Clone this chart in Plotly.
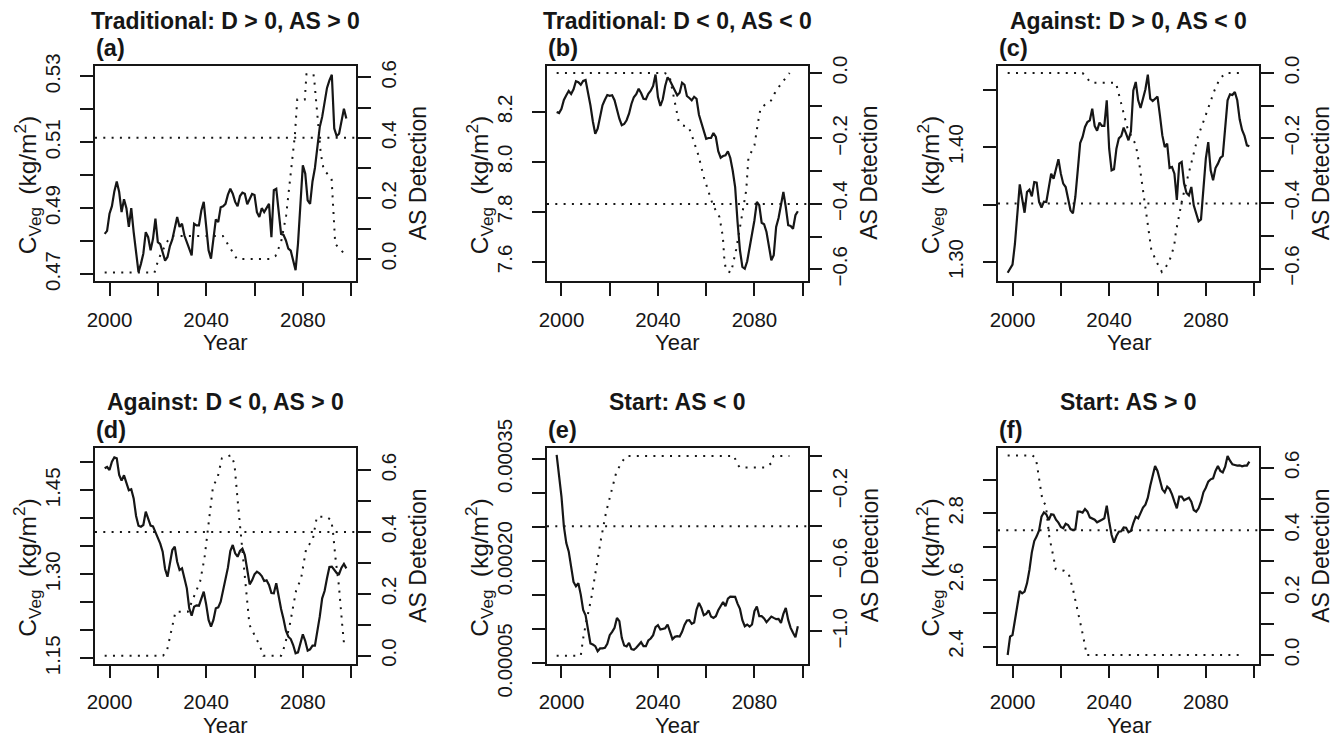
import plotly.graph_objects as go

W, H = 1344, 738

# ---------------- data ----------------
YEARS = list(range(1998, 2099))

titles = ["Traditional: D &gt; 0, AS &gt; 0", "Traditional: D &lt; 0, AS &lt; 0",
          "Against: D &gt; 0, AS &lt; 0", "Against: D &lt; 0, AS &gt; 0",
          "Start: AS &lt; 0", "Start: AS &gt; 0"]
letters = ["(a)", "(b)", "(c)", "(d)", "(e)", "(f)"]

cveg_a = [0.4822, 0.4831, 0.4883, 0.4906, 0.4951, 0.4981, 0.4949, 0.4888, 0.4927, 0.4900,
          0.4843, 0.4900, 0.4827, 0.4762, 0.4706, 0.4731, 0.4762, 0.4827, 0.4812, 0.4772,
          0.4807, 0.4868, 0.4797, 0.4791, 0.4762, 0.4741, 0.4752, 0.4785, 0.4805, 0.4838,
          0.4873, 0.4843, 0.4853, 0.4817, 0.4797, 0.4780, 0.4757, 0.4853, 0.4848, 0.4848,
          0.4893, 0.4919, 0.4833, 0.4772, 0.4747, 0.4807, 0.4866, 0.4858, 0.4903, 0.4906,
          0.4913, 0.4941, 0.4959, 0.4944, 0.4919, 0.4906, 0.4937, 0.4947, 0.4944, 0.4912,
          0.4926, 0.4943, 0.4940, 0.4888, 0.4873, 0.4900, 0.4888, 0.4903, 0.4913, 0.4812,
          0.4955, 0.4959, 0.4898, 0.4822, 0.4819, 0.4802, 0.4777, 0.4771, 0.4741, 0.4712,
          0.4792, 0.4898, 0.5030, 0.5005, 0.4924, 0.4913, 0.4981, 0.5022, 0.5091, 0.5146,
          0.5177, 0.5227, 0.5265, 0.5288, 0.5305, 0.5142, 0.5119, 0.5126, 0.5166, 0.5202,
          0.5172]
cveg_b = [8.200, 8.196, 8.213, 8.248, 8.267, 8.284, 8.272, 8.291, 8.323, 8.319,
          8.309, 8.324, 8.328, 8.283, 8.227, 8.163, 8.113, 8.133, 8.187, 8.227,
          8.249, 8.268, 8.265, 8.267, 8.247, 8.207, 8.173, 8.147, 8.152, 8.167,
          8.193, 8.232, 8.259, 8.271, 8.293, 8.276, 8.253, 8.251, 8.273, 8.285,
          8.304, 8.350, 8.260, 8.224, 8.251, 8.304, 8.339, 8.325, 8.305, 8.289,
          8.267, 8.277, 8.317, 8.309, 8.264, 8.256, 8.247, 8.261, 8.253, 8.189,
          8.157, 8.127, 8.093, 8.096, 8.096, 8.116, 8.100, 8.043, 8.017, 8.024,
          8.027, 8.043, 8.016, 7.965, 7.900, 7.760, 7.647, 7.580, 7.573, 7.603,
          7.656, 7.720, 7.767, 7.840, 7.827, 7.757, 7.751, 7.720, 7.664, 7.607,
          7.627, 7.740, 7.776, 7.837, 7.880, 7.820, 7.747, 7.744, 7.733, 7.787,
          7.803]
cveg_c = [1.2907, 1.2942, 1.2977, 1.3157, 1.3415, 1.3676, 1.3551, 1.3429, 1.3609, 1.3630,
          1.3572, 1.3696, 1.3690, 1.3522, 1.3473, 1.3525, 1.3522, 1.3644, 1.3769, 1.3725,
          1.3807, 1.3894, 1.3769, 1.3682, 1.3653, 1.3551, 1.3450, 1.3424, 1.3566, 1.3798,
          1.4036, 1.4088, 1.4175, 1.4218, 1.4233, 1.4335, 1.4184, 1.4143, 1.4213, 1.4184,
          1.4184, 1.4407, 1.3986, 1.3798, 1.3807, 1.3986, 1.4076, 1.4097, 1.4169, 1.4117,
          1.4059, 1.4137, 1.4494, 1.4567, 1.4407, 1.4340, 1.4436, 1.4503, 1.4630, 1.4421,
          1.4401, 1.4416, 1.4439, 1.4276, 1.4102, 1.4001, 1.4030, 1.3818, 1.3827, 1.3769,
          1.3540, 1.3856, 1.3870, 1.3682, 1.3601, 1.3580, 1.3653, 1.3493, 1.3421, 1.3354,
          1.3371, 1.3624, 1.3899, 1.4044, 1.3798, 1.3711, 1.3818, 1.3856, 1.3905, 1.3923,
          1.4160, 1.4407, 1.4459, 1.4453, 1.4480, 1.4407, 1.4242, 1.4149, 1.4097, 1.4015,
          1.4007]
cveg_d = [1.4893, 1.4917, 1.4863, 1.5012, 1.5089, 1.5071, 1.4774, 1.4673, 1.4768, 1.4643,
          1.4500, 1.4518, 1.4357, 1.4042, 1.3869, 1.3851, 1.3881, 1.4119, 1.4000, 1.3869,
          1.3857, 1.3750, 1.3643, 1.3548, 1.3405, 1.3095, 1.2958, 1.3196, 1.3435, 1.3494,
          1.3226, 1.3077, 1.3107, 1.2929, 1.2750, 1.2393, 1.2262, 1.2423, 1.2446, 1.2440,
          1.2583, 1.2690, 1.2464, 1.2185, 1.2065, 1.2185, 1.2393, 1.2411, 1.2512, 1.2708,
          1.2929, 1.3119, 1.3417, 1.3524, 1.3375, 1.3315, 1.3417, 1.3458, 1.3345, 1.3048,
          1.2821, 1.2893, 1.3000, 1.3048, 1.3018, 1.2970, 1.2881, 1.2893, 1.2810, 1.2667,
          1.2661, 1.2840, 1.2601, 1.2381, 1.2202, 1.1994, 1.1887, 1.1845, 1.1738, 1.1589,
          1.1607, 1.1780, 1.1929, 1.1810, 1.1637, 1.1661, 1.1726, 1.1726, 1.1964, 1.2244,
          1.2571, 1.2702, 1.2929, 1.3131, 1.3137, 1.3089, 1.3024, 1.3006, 1.3119, 1.3185,
          1.3107]
# panel (e) in units of 1e-5 kg/m2
cveg_e_1e5 = [35.59, 32.90, 29.49, 25.10, 22.66, 21.44, 19.19, 16.95, 16.32, 16.76,
              15.10, 12.85, 12.07, 9.63, 7.93, 7.78, 7.54, 6.80, 7.20, 7.20,
              7.29, 7.88, 9.15, 9.63, 10.22, 11.68, 11.20, 8.76, 7.63, 7.49,
              8.02, 7.10, 7.00, 7.29, 7.78, 8.12, 7.54, 7.54, 8.37, 8.66,
              9.15, 10.32, 10.61, 9.98, 10.07, 10.17, 10.71, 9.73, 8.56, 8.90,
              9.00, 8.95, 9.63, 10.66, 11.29, 11.34, 10.80, 11.00, 12.90, 13.88,
              13.15, 12.07, 12.27, 12.80, 11.88, 11.68, 11.93, 12.80, 13.49, 14.02,
              13.39, 14.51, 14.80, 14.80, 14.76, 13.78, 13.00, 11.34, 10.46, 10.71,
              10.41, 10.71, 12.66, 13.34, 11.93, 11.93, 11.59, 11.05, 11.49, 11.88,
              11.68, 11.49, 11.54, 10.95, 12.27, 13.15, 11.39, 10.22, 9.49, 8.85,
              10.46]
cveg_f = [2.375, 2.430, 2.435, 2.478, 2.525, 2.567, 2.560, 2.565, 2.590, 2.630,
          2.683, 2.717, 2.731, 2.749, 2.790, 2.803, 2.797, 2.780, 2.797, 2.796,
          2.781, 2.772, 2.759, 2.755, 2.769, 2.765, 2.753, 2.750, 2.752, 2.805,
          2.805, 2.802, 2.813, 2.805, 2.788, 2.785, 2.781, 2.773, 2.778, 2.781,
          2.785, 2.823, 2.775, 2.735, 2.712, 2.732, 2.745, 2.746, 2.758, 2.757,
          2.743, 2.747, 2.771, 2.790, 2.785, 2.800, 2.817, 2.826, 2.847, 2.883,
          2.917, 2.942, 2.927, 2.897, 2.872, 2.863, 2.880, 2.873, 2.857, 2.835,
          2.815, 2.850, 2.850, 2.839, 2.844, 2.847, 2.835, 2.810, 2.805, 2.815,
          2.835, 2.863, 2.877, 2.895, 2.902, 2.905, 2.927, 2.942, 2.927, 2.923,
          2.940, 2.972, 2.958, 2.947, 2.945, 2.943, 2.944, 2.941, 2.943, 2.943,
          2.955]

# AS detection series (year, value)
as_a_year = [1998, 2018.6, 2020.3, 2023.7, 2025.7, 2046.9, 2052.7, 2066.2, 2068.7, 2071.0, 2073.1,
             2075.0, 2076.7, 2077.7, 2080.8, 2081.5, 2084.4, 2084.8, 2086.3, 2087.4, 2088.6,
             2091.9, 2093.4, 2097.1]
as_a_val = [-0.045, -0.045, 0.0, 0.056, 0.076, 0.076, 0.0, 0.0, 0.01, 0.056, 0.144,
            0.276, 0.408, 0.527, 0.527, 0.61, 0.61, 0.585, 0.45, 0.35, 0.296,
            0.265, 0.05, 0.018]
as_b_year = [1998, 2042.8, 2044.8, 2046.5, 2048.0, 2048.6, 2050.3, 2052.7, 2053.8, 2056.8, 2059.0,
             2061.0, 2062.8, 2065.5, 2066.9, 2067.6, 2068.3, 2070.3, 2072.4, 2074.5, 2076.6,
             2077.5, 2080.0, 2081.4, 2082.5, 2084.8, 2086.9, 2088.3, 2091.0, 2094.6]
as_b_val = [0.0, 0.0, -0.009, -0.07, -0.124, -0.148, -0.16, -0.165, -0.185, -0.252, -0.318,
            -0.36, -0.404, -0.44, -0.50, -0.577, -0.603, -0.61, -0.54, -0.45, -0.358,
            -0.26, -0.221, -0.155, -0.109, -0.094, -0.084, -0.063, -0.033, 0.0]
as_c_year = [1998, 2029.0, 2032.4, 2042.8, 2045.2, 2047.6, 2051.0, 2052.7, 2054.5, 2055.9, 2057.4,
             2059.3, 2061.8, 2063.4, 2064.8, 2066.9, 2067.6, 2070.3, 2072.6, 2074.5, 2076.7,
             2079.2, 2081.4, 2083.6, 2085.8, 2088.3, 2095.9]
as_c_val = [0.0, 0.0, -0.03, -0.03, -0.10, -0.17, -0.22, -0.29, -0.386, -0.467, -0.54,
            -0.575, -0.61, -0.595, -0.58, -0.53, -0.488, -0.385, -0.319, -0.263, -0.196,
            -0.145, -0.099, -0.053, -0.017, 0.0, 0.0]
as_d_year = [1998, 2022.1, 2023.7, 2025.1, 2027.3, 2032.4, 2034.5, 2037.5, 2039.3, 2040.7, 2041.8,
             2042.8, 2044.8, 2046.5, 2050.3, 2051.7, 2053.2, 2054.8, 2056.0, 2057.9, 2060.1,
             2062.1, 2063.7, 2071.0, 2072.4, 2074.5, 2077.2, 2079.3, 2081.4, 2084.1, 2085.8,
             2089.7, 2091.7, 2092.4, 2093.5, 2094.9, 2096.3, 2097.2]
as_d_val = [0.0, 0.0, 0.013, 0.062, 0.142, 0.142, 0.185, 0.240, 0.315, 0.407, 0.492,
            0.545, 0.578, 0.638, 0.648, 0.62, 0.487, 0.356, 0.25, 0.10, 0.065,
            0.034, 0.0, 0.0, 0.03, 0.095, 0.21, 0.25, 0.347, 0.374, 0.449,
            0.449, 0.439, 0.406, 0.315, 0.228, 0.099, 0.026]
as_e_year = [1998, 2008.0, 2009.0, 2010.2, 2012.3, 2014.3, 2016.4, 2018.5, 2020.6, 2022.6, 2024.7,
             2026.9, 2071.7, 2072.4, 2073.9, 2084.8, 2086.9, 2087.9, 2094.5]
as_e_val = [-1.139, -1.139, -1.04, -0.95, -0.816, -0.645, -0.473, -0.32, -0.207, -0.10, -0.04,
            0.0, 0.0, -0.036, -0.065, -0.065, -0.042, 0.0, 0.0]
as_f_year = [1998, 2008.3, 2009.7, 2011.0, 2012.4, 2013.8, 2015.2, 2016.8, 2017.9, 2021.4, 2023.2,
             2025.1, 2026.9, 2028.7, 2030.1, 2030.6, 2095.2]
as_f_val = [0.64, 0.64, 0.63, 0.571, 0.496, 0.48, 0.38, 0.32, 0.275, 0.27, 0.262,
            0.208, 0.149, 0.080, 0.027, 0.0, 0.0]

thresholds = [0.4, -0.4, -0.4, 0.4, -0.4, 0.4]

# labelled ticks and unlabelled (minor) ticks
x_major = [2000, 2040, 2080]
x_minor = [2020, 2060, 2100]

left_major = [[0.47, 0.49, 0.51, 0.53], [7.6, 7.8, 8.0, 8.2], [1.30, 1.40],
              [1.15, 1.30, 1.45], [0.00005, 0.00020, 0.00035], [2.4, 2.6, 2.8]]
left_major_text = [["0.47", "0.49", "0.51", "0.53"], ["7.6", "7.8", "8.0", "8.2"],
                   ["1.30", "1.40"], ["1.15", "1.30", "1.45"],
                   ["0.00005", "0.00020", "0.00035"], ["2.4", "2.6", "2.8"]]
left_minor = [[0.48, 0.50, 0.52], [], [1.35, 1.45],
              [1.20, 1.25, 1.35, 1.40, 1.50], [0.00010, 0.00015, 0.00025, 0.00030],
              [2.5, 2.7, 2.9]]

right_major = [[0.0, 0.2, 0.4, 0.6], [0.0, -0.2, -0.4, -0.6], [0.0, -0.2, -0.4, -0.6],
               [0.0, 0.2, 0.4, 0.6], [-0.2, -0.6, -1.0], [0.0, 0.2, 0.4, 0.6]]
right_major_text = [["0.0", "0.2", "0.4", "0.6"],
                    ["0.0", "\u22120.2", "\u22120.4", "\u22120.6"],
                    ["0.0", "\u22120.2", "\u22120.4", "\u22120.6"],
                    ["0.0", "0.2", "0.4", "0.6"],
                    ["\u22120.2", "\u22120.6", "\u22121.0"],
                    ["0.0", "0.2", "0.4", "0.6"]]
right_minor = [[0.1, 0.3, 0.5], [-0.1, -0.3, -0.5], [-0.1, -0.3, -0.5],
               [0.1, 0.3, 0.5], [0.0, -0.4, -0.8], [0.1, 0.3, 0.5]]

cveg_series = [cveg_a, cveg_b, cveg_c, cveg_d, [v * 1e-5 for v in cveg_e_1e5], cveg_f]
as_series = [(as_a_year, as_a_val), (as_b_year, as_b_val), (as_c_year, as_c_val),
             (as_d_year, as_d_val), (as_e_year, as_e_val), (as_f_year, as_f_val)]

# ---------------- layout / style ----------------
# plot boxes in pixels: (left, right, top, bottom)
boxes = [(95, 356, 65.5, 281), (547, 807.5, 65.5, 281), (998, 1259, 65.5, 281),
         (95, 356, 448, 663.5), (547, 807.5, 448, 663.5), (998, 1259, 448, 663.5)]
x_range = [1994, 2102]
left_ranges = [[0.4679, 0.5333], [7.524, 8.386], [1.2835, 1.4710],
               [1.1408, 1.5256], [0.0000499, 0.0003661], [2.3495, 2.996]]
right_ranges = [[-0.0727, 0.639], [-0.6354, 0.0229], [-0.638, 0.023],
                [-0.0253, 0.6713], [-1.1835, 0.0456], [-0.0272, 0.6638]]

INK = "#161616"
FONT = "Liberation Sans, Arial, Helvetica, sans-serif"
TICKFONT = dict(family=FONT, size=20.5, color=INK)
DOT = "2px,6.3px"
TICKLEN = 13

fig = go.Figure()
layout = {}
annotations = []
shapes = []


def px(x):
    return x / W


def py(y):
    return 1 - y / H


def minor(vals):
    return dict(tickmode="array", tickvals=vals, ticks="outside", ticklen=TICKLEN,
                tickwidth=1.8, tickcolor=INK, showgrid=False)


for i in range(6):
    n = i + 1
    xa = "x" if n == 1 else f"x{n}"
    yl = "y" if n == 1 else f"y{n}"
    yr = f"y{n + 6}"
    xkey = "xaxis" if n == 1 else f"xaxis{n}"
    ylkey = "yaxis" if n == 1 else f"yaxis{n}"
    yrkey = f"yaxis{n + 6}"
    L, R, T, B = boxes[i]

    fig.add_trace(go.Scatter(x=YEARS, y=cveg_series[i], mode="lines",
                             line=dict(color=INK, width=2.2), xaxis=xa, yaxis=yl,
                             showlegend=False, hoverinfo="skip"))
    ax, av = as_series[i]
    fig.add_trace(go.Scatter(x=ax, y=av, mode="lines",
                             line=dict(color=INK, width=2, dash=DOT), xaxis=xa, yaxis=yr,
                             showlegend=False, hoverinfo="skip"))

    common = dict(ticks="outside", ticklen=TICKLEN, tickwidth=1.8, tickcolor=INK,
                  showline=True, linewidth=1.8, linecolor=INK, showgrid=False,
                  zeroline=False, tickfont=TICKFONT, fixedrange=True, automargin=False)

    layout[xkey] = dict(domain=[px(L), px(R)], anchor=yl, range=x_range,
                        tickmode="array", tickvals=x_major, ticktext=[str(v) for v in x_major],
                        minor=minor(x_minor), mirror=True, ticklabelstandoff=6, **common)
    layout[ylkey] = dict(domain=[py(B), py(T)], anchor=xa, range=left_ranges[i],
                         tickmode="array", tickvals=left_major[i], ticktext=left_major_text[i],
                         minor=minor(left_minor[i]),
                         tickangle=-90, ticklabelstandoff=12, **common)
    layout[yrkey] = dict(anchor=xa, overlaying=yl, side="right", range=right_ranges[i],
                         tickmode="array", tickvals=right_major[i], ticktext=right_major_text[i],
                         minor=minor(right_minor[i]),
                         tickangle=-90, ticklabelstandoff=0, **common)

    shapes.append(dict(type="line", xref=f"{xa} domain", yref=yr, x0=0, x1=1,
                       y0=thresholds[i], y1=thresholds[i],
                       line=dict(color=INK, width=2, dash=DOT)))

    cx = (L + R) / 2
    cy = (T + B) / 2
    title_y = 21 if i < 3 else 402
    annotations.append(dict(text=f"<b>{titles[i]}</b>", x=px(cx), y=py(title_y),
                            xref="paper", yref="paper", showarrow=False,
                            xanchor="center", yanchor="middle",
                            font=dict(family=FONT, size=23, color=INK)))
    annotations.append(dict(text=f"<b>{letters[i]}</b>", x=px(L - 1), y=py(T - 18),
                            xref="paper", yref="paper", showarrow=False,
                            xanchor="left", yanchor="middle",
                            font=dict(family=FONT, size=23.5, color=INK)))
    annotations.append(dict(text="C<sub>Veg</sub>\u2002(kg/m<sup>2</sup>)", x=px(L - 68),
                            y=py(cy + 12),
                            xref="paper", yref="paper", showarrow=False, textangle=-90,
                            xanchor="center", yanchor="middle",
                            font=dict(family=FONT, size=24.5, color=INK)))
    annotations.append(dict(text="AS Detection", x=px(R + 62), y=py(cy),
                            xref="paper", yref="paper", showarrow=False, textangle=-90,
                            xanchor="center", yanchor="middle",
                            font=dict(family=FONT, size=23, color=INK)))
    annotations.append(dict(text="Year", x=px(cx), y=py(B + 62),
                            xref="paper", yref="paper", showarrow=False,
                            xanchor="center", yanchor="middle",
                            font=dict(family=FONT, size=22, color=INK)))

fig.update_layout(width=W, height=H, margin=dict(l=0, r=0, t=0, b=0, autoexpand=False),
                  paper_bgcolor="white", plot_bgcolor="white",
                  showlegend=False, annotations=annotations, shapes=shapes, **layout)

fig.write_html("out.html", include_plotlyjs=True, config={"displayModeBar": False})
